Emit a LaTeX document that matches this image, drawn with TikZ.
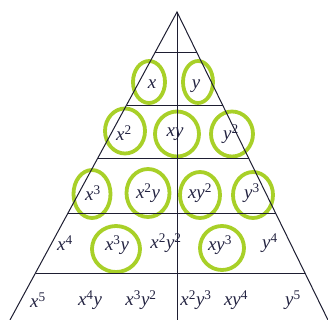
\documentclass[tikz,border=0pt]{standalone}
\usepackage{fontspec}
\setmainfont{Liberation Serif}
\usetikzlibrary{shapes.geometric}
\definecolor{ringgreen}{RGB}{168,208,40}
\definecolor{inkline}{RGB}{30,30,50}
\definecolor{inktext}{RGB}{35,35,65}
\newcommand{\pw}[1]{\textsuperscript{\upshape #1}}
\begin{document}
\begin{tikzpicture}[x=1bp,y=-1bp,
  ring/.style={draw=ringgreen,line width=3.8bp,ellipse,inner sep=0pt},
  term/.style={text=inktext,font=\fontsize{19}{21}\selectfont\itshape,inner sep=0pt},
  rung/.style={draw=inkline,line width=1bp}]
\useasboundingbox (0,0) rectangle (328,320);
\clip (0,0) rectangle (328,320);
\fill[white] (0,0) rectangle (328,320);
% rings
\node[ring,minimum width=32bp,minimum height=42bp] (r1) at (149,82) {};
\node[ring,minimum width=30bp,minimum height=42bp] (r2) at (198,82) {};
\node[ring,minimum width=40bp,minimum height=45bp] (r3) at (125,131) {};
\node[ring,minimum width=44bp,minimum height=45bp] (r4) at (177,134) {};
\node[ring,minimum width=42bp,minimum height=45bp] (r5) at (232,134) {};
\node[ring,minimum width=37bp,minimum height=48bp] (r6) at (92,194) {};
\node[ring,minimum width=43bp,minimum height=48bp] (r7) at (148,193) {};
\node[ring,minimum width=40bp,minimum height=46bp] (r8) at (200,195) {};
\node[ring,minimum width=40bp,minimum height=46bp] (r9) at (253,195) {};
\node[ring,minimum width=48bp,minimum height=46bp] (r10) at (116,249) {};
\node[ring,minimum width=44bp,minimum height=44bp] (r11) at (222,248) {};
% triangle frame
\coordinate (A) at (177,12);
\coordinate (L) at (10,320);
\coordinate (R) at (328,320);
\coordinate (B) at (177,320);
\coordinate (l1) at (155.3,52);  \coordinate (e1) at (196.6,52);
\coordinate (l2) at (126.6,105); \coordinate (e2) at (222.6,105);
\coordinate (l3) at (97.9,158);  \coordinate (e3) at (248.5,158);
\coordinate (l4) at (68.1,213);  \coordinate (e4) at (275.5,213);
\coordinate (l5) at (35.5,273);  \coordinate (e5) at (304.9,273);
\draw[rung] (L) -- (A) -- (R);
\draw[rung] (A) -- (B);
\foreach \i in {1,...,5} \draw[rung] (l\i) -- (e\i);
% terms
\node[term] (t1) at (152,84) {x};
\node[term] (t2) at (196,86) {y};
\node[term] (t3) at (124,133) {x\pw{2}};
\node[term] (t4) at (175,134) {xy};
\node[term] (t5) at (231,134) {y\pw{2}};
\node[term] (t6) at (93,193) {x\pw{3}};
\node[term] (t7) at (148,193) {x\pw{2}y};
\node[term] (t8) at (200,193) {xy\pw{2}};
\node[term] (t9) at (252,193) {y\pw{3}};
\node[term] (t10) at (65,243) {x\pw{4}};
\node[term] (t11) at (117,245) {x\pw{3}y};
\node[term] (t12) at (166,243) {x\pw{2}y\pw{2}};
\node[term] (t13) at (220,245) {xy\pw{3}};
\node[term] (t14) at (270,243) {y\pw{4}};
\node[term] (t15) at (38,300) {x\pw{5}};
\node[term] (t16) at (90,300) {x\pw{4}y};
\node[term] (t17) at (141,300) {x\pw{3}y\pw{2}};
\node[term] (t18) at (196,300) {x\pw{2}y\pw{3}};
\node[term] (t19) at (236,300) {xy\pw{4}};
\node[term] (t20) at (293,300) {y\pw{5}};
\end{tikzpicture}
\end{document}
